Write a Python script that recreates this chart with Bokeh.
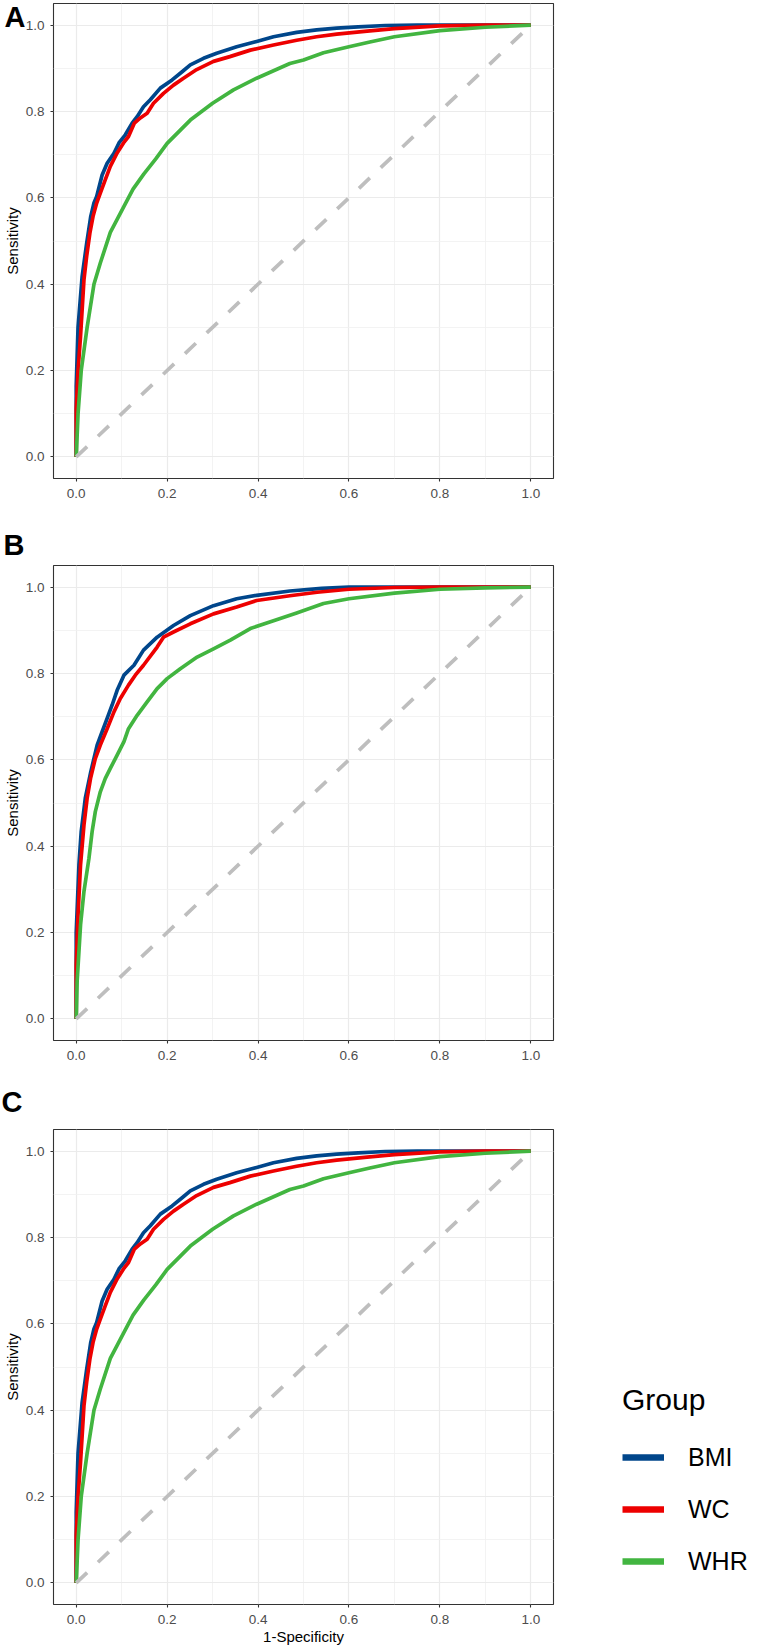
from bokeh.plotting import figure
from bokeh.models import Range1d, FixedTicker, PrintfTickFormatter, Legend, LegendItem, Title
from bokeh.layouts import column
from bokeh.embed import file_html
from bokeh.resources import INLINE

# ---------------- data ----------------
groups = ["BMI", "WC", "WHR"]
panel_letters = ["A", "B", "C"]
tick_values = [0.0, 0.2, 0.4, 0.6, 0.8, 1.0]
minor_values = [0.1, 0.3, 0.5, 0.7, 0.9]
diag = [0.0, 1.0]
x_title = "1-Specificity"
y_title = "Sensitivity"
legend_title = "Group"

a_bmi_fpr = [0.0, 0.0, 0.004, 0.013, 0.023, 0.032, 0.039, 0.045, 0.057, 0.068, 0.083, 0.094, 0.108, 0.123, 0.134, 0.148, 0.163, 0.185, 0.211, 0.233, 0.251, 0.280, 0.309, 0.353, 0.397, 0.434, 0.485, 0.529, 0.573, 0.620, 0.680, 0.750, 0.850, 1.0]
a_bmi_tpr = [0.0, 0.164, 0.300, 0.418, 0.495, 0.557, 0.588, 0.603, 0.653, 0.680, 0.703, 0.727, 0.746, 0.773, 0.788, 0.811, 0.827, 0.854, 0.873, 0.892, 0.908, 0.923, 0.935, 0.950, 0.962, 0.973, 0.983, 0.989, 0.993, 0.996, 0.999, 1.0, 1.0, 1.0]
a_wc_fpr = [0.0, 0.0, 0.004, 0.0095, 0.017, 0.023, 0.030, 0.037, 0.045, 0.053, 0.064, 0.075, 0.090, 0.104, 0.115, 0.128, 0.141, 0.156, 0.170, 0.192, 0.214, 0.236, 0.265, 0.302, 0.338, 0.383, 0.434, 0.485, 0.529, 0.573, 0.640, 0.700, 0.800, 0.900, 1.0]
a_wc_tpr = [0.0, 0.110, 0.200, 0.280, 0.410, 0.465, 0.518, 0.557, 0.588, 0.611, 0.642, 0.673, 0.704, 0.727, 0.742, 0.773, 0.785, 0.796, 0.819, 0.842, 0.861, 0.877, 0.897, 0.916, 0.927, 0.942, 0.954, 0.965, 0.973, 0.979, 0.986, 0.992, 0.998, 1.0, 1.0]
a_whr_fpr = [0.0, 0.002, 0.004, 0.011, 0.024, 0.039, 0.053, 0.075, 0.105, 0.125, 0.1485, 0.175, 0.200, 0.251, 0.300, 0.346, 0.397, 0.470, 0.500, 0.544, 0.600, 0.646, 0.700, 0.800, 0.900, 1.0]
a_whr_tpr = [0.0, 0.050, 0.100, 0.200, 0.300, 0.400, 0.449, 0.520, 0.580, 0.620, 0.655, 0.690, 0.726, 0.780, 0.819, 0.850, 0.877, 0.911, 0.919, 0.936, 0.950, 0.961, 0.973, 0.987, 0.995, 1.0]

b_bmi_fpr = [0.0, 0.0, 0.006, 0.011, 0.020, 0.032, 0.046, 0.057, 0.068, 0.079, 0.090, 0.105, 0.127, 0.148, 0.178, 0.214, 0.251, 0.302, 0.353, 0.397, 0.470, 0.540, 0.600, 0.700, 1.0]
b_bmi_tpr = [0.0, 0.200, 0.357, 0.434, 0.511, 0.572, 0.634, 0.665, 0.696, 0.727, 0.761, 0.796, 0.819, 0.854, 0.884, 0.911, 0.934, 0.957, 0.973, 0.981, 0.991, 0.997, 1.0, 1.0, 1.0]
b_wc_fpr = [0.0, 0.0, 0.004, 0.0095, 0.017, 0.024, 0.0315, 0.042, 0.053, 0.068, 0.083, 0.097, 0.115, 0.130, 0.148, 0.178, 0.192, 0.214, 0.251, 0.302, 0.353, 0.397, 0.470, 0.530, 0.600, 0.700, 0.800, 1.0]
b_wc_tpr = [0.0, 0.125, 0.241, 0.357, 0.449, 0.511, 0.557, 0.603, 0.634, 0.672, 0.711, 0.742, 0.773, 0.796, 0.819, 0.861, 0.884, 0.896, 0.915, 0.938, 0.954, 0.969, 0.980, 0.988, 0.995, 0.999, 1.0, 1.0]
b_whr_fpr = [0.0, 0.002, 0.0095, 0.017, 0.028, 0.035, 0.042, 0.053, 0.064, 0.075, 0.090, 0.105, 0.115, 0.134, 0.156, 0.178, 0.200, 0.229, 0.266, 0.302, 0.339, 0.383, 0.434, 0.485, 0.544, 0.600, 0.700, 0.800, 0.900, 1.0]
b_whr_tpr = [0.0, 0.087, 0.218, 0.295, 0.372, 0.434, 0.480, 0.526, 0.557, 0.580, 0.611, 0.642, 0.672, 0.703, 0.734, 0.765, 0.788, 0.811, 0.838, 0.857, 0.877, 0.904, 0.922, 0.940, 0.962, 0.973, 0.986, 0.995, 0.998, 1.0]

c_bmi_fpr = [0.0, 0.0, 0.004, 0.013, 0.023, 0.032, 0.039, 0.045, 0.057, 0.068, 0.083, 0.094, 0.108, 0.123, 0.134, 0.148, 0.163, 0.185, 0.211, 0.233, 0.251, 0.280, 0.309, 0.353, 0.397, 0.434, 0.485, 0.529, 0.573, 0.620, 0.680, 0.750, 0.850, 1.0]
c_bmi_tpr = [0.0, 0.164, 0.300, 0.418, 0.495, 0.557, 0.588, 0.603, 0.653, 0.680, 0.703, 0.727, 0.746, 0.773, 0.788, 0.811, 0.827, 0.854, 0.873, 0.892, 0.908, 0.923, 0.935, 0.950, 0.962, 0.973, 0.983, 0.989, 0.993, 0.996, 0.999, 1.0, 1.0, 1.0]
c_wc_fpr = [0.0, 0.0, 0.004, 0.0095, 0.017, 0.023, 0.030, 0.037, 0.045, 0.053, 0.064, 0.075, 0.090, 0.104, 0.115, 0.128, 0.141, 0.156, 0.170, 0.192, 0.214, 0.236, 0.265, 0.302, 0.338, 0.383, 0.434, 0.485, 0.529, 0.573, 0.640, 0.700, 0.800, 0.900, 1.0]
c_wc_tpr = [0.0, 0.110, 0.200, 0.280, 0.410, 0.465, 0.518, 0.557, 0.588, 0.611, 0.642, 0.673, 0.704, 0.727, 0.742, 0.773, 0.785, 0.796, 0.819, 0.842, 0.861, 0.877, 0.897, 0.916, 0.927, 0.942, 0.954, 0.965, 0.973, 0.979, 0.986, 0.992, 0.998, 1.0, 1.0]
c_whr_fpr = [0.0, 0.002, 0.004, 0.011, 0.024, 0.039, 0.053, 0.075, 0.105, 0.125, 0.1485, 0.175, 0.200, 0.251, 0.300, 0.346, 0.397, 0.470, 0.500, 0.544, 0.600, 0.646, 0.700, 0.800, 0.900, 1.0]
c_whr_tpr = [0.0, 0.050, 0.100, 0.200, 0.300, 0.400, 0.449, 0.520, 0.580, 0.620, 0.655, 0.690, 0.726, 0.780, 0.819, 0.850, 0.877, 0.911, 0.919, 0.936, 0.950, 0.961, 0.973, 0.987, 0.995, 1.0]

# ---------------- style ----------------
FONT = "Liberation Sans"
COLORS = ["#00468B", "#ED0000", "#42B540"]
LINE_W = 3.7


def style_axis(ax):
    ax.ticker = FixedTicker(ticks=tick_values, minor_ticks=minor_values)
    ax.formatter = PrintfTickFormatter(format="%.1f")
    ax.axis_line_color = None
    ax.major_tick_line_color = "#333333"
    ax.major_tick_line_width = 1.1
    ax.major_tick_out = 3
    ax.major_tick_in = 0
    ax.minor_tick_out = 0
    ax.minor_tick_in = 0
    ax.minor_tick_line_color = None
    ax.major_label_text_font = FONT
    ax.major_label_text_font_size = "13.5px"
    ax.major_label_text_color = "#4D4D4D"
    ax.axis_label_text_font = FONT
    ax.axis_label_text_font_size = "15px"
    ax.axis_label_text_font_style = "normal"
    ax.axis_label_text_color = "black"


def make_panel(series, top, bottom, right, show_x_title=False, with_legend=False):
    p = figure(frame_width=500, frame_height=475, title=None,
               x_range=Range1d(-0.05, 1.05), y_range=Range1d(-0.05, 1.05),
               output_backend="svg", toolbar_location=None,
               min_border_left=49, min_border_top=top, min_border_bottom=bottom,
               min_border_right=right,
               background_fill_color="white", border_fill_color="white")
    p.outline_line_color = "#333333"
    p.outline_line_width = 1.1
    p.outline_line_alpha = 1.0
    style_axis(p.xaxis[0])
    style_axis(p.yaxis[0])
    p.yaxis.axis_label = y_title
    p.yaxis.major_label_standoff = 6
    p.yaxis.axis_label_standoff = 2
    p.xaxis.major_label_standoff = 7
    if show_x_title:
        p.xaxis.axis_label = x_title
        p.xaxis.axis_label_standoff = 1
    for g in (p.xgrid[0], p.ygrid[0]):
        g.grid_line_color = "#EBEBEB"
        g.grid_line_width = 1.2
        g.minor_grid_line_color = "#F0F0F0"
        g.minor_grid_line_width = 0.8

    rends = []
    for (fpr, tpr), c in zip(series, COLORS):
        p.line(fpr, tpr, line_color=c, line_width=LINE_W, line_join="round")
        # thicker hidden twin, used only as the legend key
        rends.append(p.line(fpr, tpr, line_color=c, line_width=6.5, visible=False))
    p.line(diag, diag, line_color="#BEBEBE", line_width=LINE_W, line_dash="15 15")

    if with_legend:
        items = [LegendItem(label=g, renderers=[r]) for g, r in zip(groups, rends)]
        leg = Legend(items=items, title=legend_title, location=(69, 18),
                     border_line_color=None, background_fill_alpha=0.0,
                     padding=0, margin=0, spacing=2,
                     glyph_width=42, glyph_height=50, label_height=50,
                     label_standoff=24,
                     label_text_font=FONT, label_text_font_size="25px",
                     label_text_color="black",
                     title_text_font=FONT, title_text_font_size="30px",
                     title_text_font_style="normal", title_text_color="black",
                     title_standoff=15)
        p.add_layout(leg, "right")
    return p


def letter_title(text, offset, standoff):
    return Title(text=text, align="left", offset=offset, standoff=standoff,
                 text_font=FONT, text_font_size="29px", text_font_style="bold",
                 text_color="black")


# ---- panel A: its letter sits beside the top of the frame; it is carried by a
# glyph-less legend entry living in the (unclipped) right side panel
pA = make_panel([(a_bmi_fpr, a_bmi_tpr), (a_wc_fpr, a_wc_tpr), (a_whr_fpr, a_whr_tpr)],
                top=3, bottom=30, right=10)
letter_key = pA.line(x=[], y=[])
pA.add_layout(Legend(items=[LegendItem(label=panel_letters[0], renderers=[letter_key])],
                     location=(-548.5, 443), border_line_color=None,
                     background_fill_alpha=0.0, padding=0, margin=0,
                     glyph_width=0, glyph_height=36, label_height=36, label_standoff=0,
                     label_text_font=FONT, label_text_font_size="29px",
                     label_text_font_style="bold", label_text_color="black"), "right")

pB = make_panel([(b_bmi_fpr, b_bmi_tpr), (b_wc_fpr, b_wc_tpr), (b_whr_fpr, b_whr_tpr)],
                top=57, bottom=30, right=10)
pB.add_layout(letter_title(panel_letters[1], -50, 10), "above")

pC = make_panel([(c_bmi_fpr, c_bmi_tpr), (c_wc_fpr, c_wc_tpr), (c_whr_fpr, c_whr_tpr)],
                top=59, bottom=0, right=198, show_x_title=True, with_legend=True)
pC.add_layout(letter_title(panel_letters[2], -52, 24), "above")

layout = column(pA, pB, pC, spacing=0)
open("out.html", "w").write(file_html(layout, INLINE))
